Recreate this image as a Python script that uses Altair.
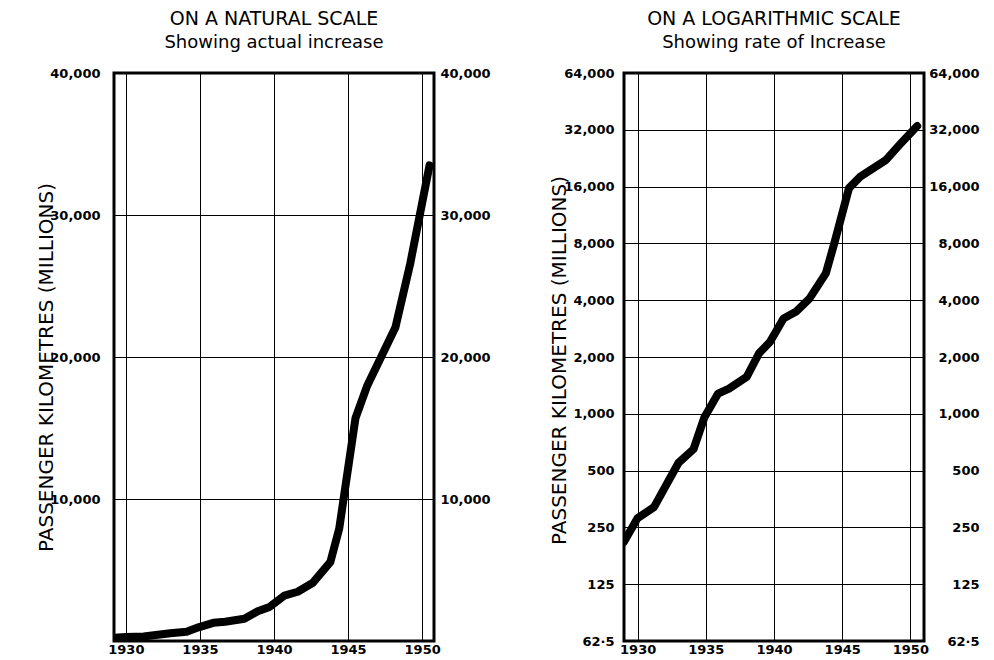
import altair as alt
import pandas as pd

# Values (passenger kilometres, millions)
YEARS = [1929.0, 1930.0, 1931.2, 1933.0, 1934.1, 1934.9, 1935.9, 1936.7, 1938.0, 1938.9,
         1939.7, 1940.7, 1941.6, 1942.6, 1943.8, 1944.4, 1945.5, 1946.3, 1948.2, 1949.2, 1950.5]
KM = [210, 280, 320, 550, 650, 960, 1280, 1360, 1570, 2090,
      2400, 3200, 3470, 4080, 5550, 7900, 15700, 18000, 22100, 26600, 33500]

YEAR_TICKS = [1930, 1935, 1940, 1945, 1950]
NAT_TICKS = [10000, 20000, 30000, 40000]
LOG_TICKS = [62.5, 125, 250, 500, 1000, 2000, 4000, 8000, 16000, 32000, 64000]

TITLES = ["ON A NATURAL SCALE", "ON A LOGARITHMIC SCALE"]
SUBTITLES = ["Showing actual increase", "Showing rate of Increase"]
YTITLE = "PASSENGER  KILOMETRES  (MILLIONS)"

df = pd.DataFrame({"year": YEARS, "km": KM})

FONT = "DejaVu Sans"
LABEL_EXPR = "datum.value == 62.5 ? '62·5' : format(datum.value, ',')"


def panel(yscale, yticks, xdomain, title, subtitle, w, h, title_x, title_y,
          left_pad, right_align, right_pad):
    x_axis = alt.Axis(values=YEAR_TICKS, format="d", title=None, grid=True,
                      ticks=False, domain=False, labelPadding=2, labelFontSize=13,
                      labelFont=FONT, labelFontWeight="bold", labelColor="black",
                      gridColor="black", gridWidth=1, gridOpacity=1)
    x = alt.X("year:Q", scale=alt.Scale(domain=xdomain, nice=False, zero=False), axis=x_axis)
    y_left = alt.Y("km:Q", scale=yscale,
                   axis=alt.Axis(values=yticks, labelExpr=LABEL_EXPR, title=YTITLE,
                                 titleX=title_x, titleY=title_y, titleAngle=270,
                                 titleBaseline="middle", titleAlign="center",
                                 titleFont=FONT, titleFontSize=20, titleFontWeight="normal",
                                 titleColor="black",
                                 grid=True, gridColor="black", gridWidth=1, gridOpacity=1,
                                 ticks=False, domain=False, labelPadding=left_pad,
                                 labelFont=FONT, labelFontSize=13, labelFontWeight="bold",
                                 labelColor="black"))
    y_right = alt.Y("km:Q", scale=yscale,
                    axis=alt.Axis(orient="right", values=yticks, labelExpr=LABEL_EXPR,
                                  title=None, grid=False, ticks=False, domain=False,
                                  labelAlign=right_align, labelPadding=right_pad,
                                  labelFont=FONT, labelFontSize=13, labelFontWeight="bold",
                                  labelColor="black"))
    line = alt.Chart(df).mark_line(color="black", strokeWidth=8, strokeJoin="round",
                                   strokeCap="round", clip=True).encode(x=x, y=y_left)
    ghost = alt.Chart(df).mark_line(opacity=0).encode(x=x, y=y_right)
    return alt.layer(line, ghost).resolve_axis(y="independent").properties(
        width=w, height=h,
        title=alt.TitleParams(title, subtitle=subtitle, anchor="middle"))


left = panel(alt.Scale(domain=[0, 40000], nice=False), NAT_TICKS, [1929.2, 1950.8],
             TITLES[0], SUBTITLES[0], 320, 568, -68, 294, 14, "left", 6)
right = panel(alt.Scale(type="log", base=2, domain=[62.5, 64000], nice=False), LOG_TICKS,
              [1929.0, 1951.0], TITLES[1], SUBTITLES[1], 300, 568, -65, 287, 10, "right", 55)

chart = alt.hconcat(left, right, spacing=55).properties(
    padding={"left": 26, "top": 0, "right": 0, "bottom": 0},
    background="white"
).configure_view(stroke="black", strokeWidth=3).configure_title(
    font=FONT, fontSize=19, fontWeight="normal", color="black",
    subtitleFont=FONT, subtitleFontSize=18, subtitleColor="black",
    subtitlePadding=5, offset=15
)

chart.save("out.html", embed_options={"renderer": "svg", "actions": False})
